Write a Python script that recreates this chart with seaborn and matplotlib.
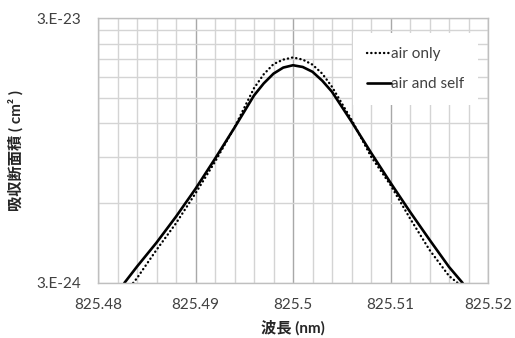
import matplotlib
matplotlib.use("Agg")
import matplotlib.pyplot as plt
import matplotlib.ticker as mticker
import numpy as np
import seaborn as sns

# Data (cross section in units of 1e-24 cm^2)
wl_self = [825.4827, 825.484, 825.486, 825.488, 825.490, 825.492, 825.494, 825.496,
           825.497, 825.498, 825.499, 825.500, 825.501, 825.502, 825.503, 825.504,
           825.506, 825.508, 825.510, 825.512, 825.514, 825.516, 825.5174]
xs_self = [3.0, 3.46, 4.26, 5.34, 6.80, 8.83, 11.57, 15.3,
           17.0, 18.5, 19.5, 19.9, 19.6, 18.8, 17.4, 15.8,
           12.2, 9.31, 7.17, 5.57, 4.37, 3.45, 3.0]

wl_air = [825.4836, 825.484, 825.486, 825.488, 825.490, 825.492, 825.494, 825.496,
          825.497, 825.498, 825.499, 825.500, 825.501, 825.502, 825.503, 825.504,
          825.506, 825.508, 825.510, 825.512, 825.514, 825.516, 825.5169]
xs_air = [3.0, 3.13, 4.0, 5.04, 6.54, 8.6, 11.6, 16.3,
          18.4, 20.1, 20.9, 21.3, 20.9, 20.0, 18.5, 16.5,
          12.4, 9.0, 7.03, 5.26, 4.0, 3.19, 3.0]

labels = ["air only", "air and self"]
xticks = [825.48, 825.49, 825.5, 825.51, 825.52]
xtick_labels = ["825.48", "825.49", "825.5", "825.51", "825.52"]
ytick_labels = ["3.E-24", "3.E-23"]

sns.set_style("white")
plt.rcParams["font.family"] = ["Lato", "Noto Sans CJK JP", "DejaVu Sans"]

fig = plt.figure(figsize=(5.15, 3.38), dpi=100)
ax = fig.add_axes([98 / 515, 1 - 283 / 338, 390 / 515, 265 / 338])

sns.lineplot(x=wl_air, y=np.array(xs_air) * 1e-24, sort=False, estimator=None,
             color="black", linewidth=1.7, linestyle=(0, (0.1, 1.7)),
             dash_capstyle="round", label=labels[0], ax=ax)
sns.lineplot(x=wl_self, y=np.array(xs_self) * 1e-24, sort=False, estimator=None,
             color="black", linewidth=1.9, label=labels[1], ax=ax)

ax.set_yscale("log")
ax.set_xlim(825.48, 825.52)
ax.set_ylim(3e-24, 3e-23)

# grid
ax.set_xticks(xticks)
ax.set_xticklabels(xtick_labels)
ax.xaxis.set_minor_locator(mticker.MultipleLocator(0.002))
ax.set_yticks([3e-24, 3e-23])
ax.set_yticklabels(ytick_labels)
ax.yaxis.set_minor_locator(mticker.FixedLocator([k * 3e-24 for k in range(2, 10)]))
ax.yaxis.set_minor_formatter(mticker.NullFormatter())
ax.grid(which="minor", color="#d4d4d4", linewidth=1.0)
ax.grid(which="major", axis="x", color="#a8a8a8", linewidth=1.0)
ax.grid(which="major", axis="y", color="#d4d4d4", linewidth=1.0)
ax.set_axisbelow(True)
ax.tick_params(which="both", length=0, labelsize=11, colors="#404040")
ax.tick_params(axis="x", pad=11)
ax.tick_params(axis="y", pad=12)
for sp in ax.spines.values():
    sp.set_color("#bfbfbf")
    sp.set_linewidth(1.0)

ax.set_xlabel("波長 (nm)", fontsize=11, fontweight="bold")
ax.xaxis.set_label_coords(0.5, -0.14)
ax.set_ylabel("吸収断面積 ( cm² )", fontsize=11, fontweight="bold")
ax.yaxis.set_label_coords(-0.19, 0.5)

leg = ax.legend(loc="upper left", bbox_to_anchor=(0.654, 0.943),
                frameon=True, fancybox=False, framealpha=1,
                facecolor="white", edgecolor="none",
                fontsize=11, handlelength=1.6, handletextpad=0.0,
                labelspacing=1.05, borderpad=0.9, borderaxespad=0)
for t in leg.get_texts():
    t.set_color("#404040")

fig.savefig("out.png", dpi=100)
plt.close()
